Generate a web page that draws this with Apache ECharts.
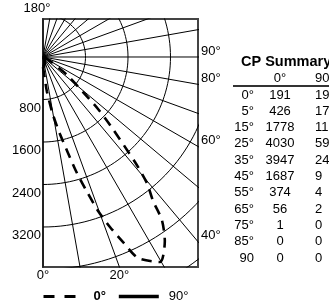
<!DOCTYPE html>
<html>
  <head>
    <title>CP Summary</title>
    <meta http-equiv="Content-Type" content="text/html; charset=utf-8" />
    <script type="text/javascript" src="https://cdn.jsdelivr.net/npm/echarts@6/dist/echarts.min.js"></script>
    <style>
      html, body { margin: 0; padding: 0; background: #fff; }
      #main { width: 329px; height: 307px; }
    </style>
  </head>
  <body>
    <div id="main"></div>
    <script type="text/javascript">
      var FONT = '"Liberation Sans", Arial, Helvetica, sans-serif';

      // CP Summary table
      var rowLabels = ['0°', '5°', '15°', '25°', '35°', '45°', '55°', '65°', '75°', '85°', '90'];
      var tableAngles = [0, 5, 15, 25, 35, 45, 55, 65, 75, 85, 90];
      var cp0 = [191, 426, 1778, 4030, 3947, 1687, 374, 56, 1, 0, 0];
      var cp90 = [191, 172, 115, 59, 24, 9, 4, 2, 0, 0, 0];

      // 0° plane curve (angle from nadir, candela)
      var curveAngles0 = [0, 5, 6.5, 9.8, 12.4, 14.6, 16.3, 18.1, 19.7, 21.5, 23.4, 25.3, 29.7,
                          33.5, 36.1, 37.4, 39.5, 41.2, 44.6, 46.6, 48.8, 52.8, 55, 60, 65, 75, 90];
      var curveCd0 = [191, 426, 663, 1108, 1485, 1867, 2276, 2673, 3078, 3439, 3795, 4185, 4443,
                      4155, 3799, 3411, 3075, 2628, 1797, 1425, 1001, 591, 374, 160, 56, 1, 0];

      // polar grid
      var rayAngles = [0, 10, 20, 30, 40, 50, 60, 70, 80, 90, 100, 110, 120, 130, 140, 150, 160, 170, 180];
      var ringValues = [800, 1600, 2400, 3200, 4000, 4800];
      var leftTicks = [800, 1600, 2400, 3200];
      var edgeAngles = [180, 90, 80, 60, 40, 0, 20];

      // visible window of the plot, in candela
      var X_MAX = 2918, Y_MAX = 715, Y_MIN = -3953;

      // angle from nadir (deg) + candela -> x/y in candela
      function toXY(deg, cd) {
        var a = deg * Math.PI / 180;
        return [cd * Math.sin(a), -cd * Math.cos(a)];
      }

      function curveData(angles, values) {
        var out = [];
        for (var i = 0; i < angles.length; i++) {
          out.push(toXY(angles[i], values[i]));
        }
        return out;
      }

      // where a ray leaves the window, and which side
      function edgePoint(deg) {
        var a = deg * Math.PI / 180;
        var dx = Math.sin(a), dy = -Math.cos(a);
        var t = Infinity, side = '';
        if (dx > 1e-9 && X_MAX / dx < t) { t = X_MAX / dx; side = 'right'; }
        if (dy < -1e-9 && Y_MIN / dy < t) { t = Y_MIN / dy; side = 'bottom'; }
        if (dy > 1e-9 && Y_MAX / dy < t) { t = Y_MAX / dy; side = 'top'; }
        return { value: [dx * t, dy * t], side: side };
      }

      var series = [];
      var gridLine = { color: '#000', width: 1 };

      for (var i = 0; i < rayAngles.length; i++) {
        series.push({
          type: 'line', silent: true, clip: true, symbol: 'none',
          lineStyle: gridLine,
          data: [[0, 0], toXY(rayAngles[i], 8000)]
        });
      }
      for (var j = 0; j < ringValues.length; j++) {
        var ring = [];
        for (var d = 0; d <= 180; d += 2) ring.push(toXY(d, ringValues[j]));
        series.push({
          type: 'line', silent: true, clip: true, symbol: 'none',
          lineStyle: gridLine, data: ring
        });
      }

      series.push({
        name: '0°', type: 'line', clip: true, symbol: 'none', smooth: 0.25,
        itemStyle: { color: '#000' },
        lineStyle: { color: '#000', width: 2.6, type: [10, 7] },
        data: curveData(curveAngles0, curveCd0), z: 5
      });
      series.push({
        name: '90°', type: 'line', clip: true, symbol: 'none', smooth: 0.3,
        itemStyle: { color: '#000' },
        lineStyle: { color: '#000', width: 3.2, type: 'solid' },
        data: curveData(tableAngles, cp90), z: 5
      });

      // angle labels on the frame
      var edgeData = [];
      for (var k = 0; k < edgeAngles.length; k++) {
        var e = edgePoint(edgeAngles[k]);
        var lbl = { position: e.side, distance: 3 };
        if (e.side === 'right') lbl.offset = [0, -6];
        if (e.side === 'top') { lbl.offset = [-6, 0]; lbl.distance = 4; }
        if (e.side === 'bottom') lbl.distance = 2;
        edgeData.push({ value: e.value, name: edgeAngles[k] + '°', label: lbl });
      }
      series.push({
        type: 'line', silent: true, clip: false, symbol: 'circle', symbolSize: 0,
        showSymbol: true, showAllSymbol: true,
        lineStyle: { width: 0, opacity: 0 },
        itemStyle: { color: 'rgba(0,0,0,0)', opacity: 1 },
        emphasis: { disabled: true },
        label: {
          show: true, formatter: '{b}', color: '#000', opacity: 1,
          textBorderWidth: 0, fontSize: 13, fontFamily: FONT
        },
        data: edgeData, z: 6
      });

      // table as text graphics
      var graphics = [];
      var tx = { label: 254, c0: 280, c90: 315 };
      graphics.push({ type: 'text', left: 241, top: 54,
        style: { text: 'CP Summary', font: 'bold 14.5px ' + FONT, fill: '#000' } });
      graphics.push({ type: 'text', x: tx.c0, y: 78,
        style: { text: '0°', font: '13px ' + FONT, fill: '#000', align: 'center', verticalAlign: 'middle' } });
      graphics.push({ type: 'text', x: tx.c90, y: 78,
        style: { text: '90°', font: '13px ' + FONT, fill: '#000', align: 'left', verticalAlign: 'middle' } });
      graphics.push({ type: 'line', shape: { x1: 233, y1: 86, x2: 329, y2: 86 },
        style: { stroke: '#333', lineWidth: 2 } });
      for (var r = 0; r < rowLabels.length; r++) {
        var y = 95 + r * 16.3;
        graphics.push({ type: 'text', x: tx.label, y: y,
          style: { text: rowLabels[r], font: '13px ' + FONT, fill: '#000', align: 'right', verticalAlign: 'middle' } });
        graphics.push({ type: 'text', x: tx.c0, y: y,
          style: { text: String(cp0[r]), font: '13px ' + FONT, fill: '#000', align: 'center', verticalAlign: 'middle' } });
        graphics.push({ type: 'text', x: tx.c90, y: y,
          style: { text: String(cp90[r]), font: '13px ' + FONT, fill: '#000', align: 'left', verticalAlign: 'middle' } });
      }

      var chart = echarts.init(document.getElementById('main'));
      chart.setOption({
        animation: false,
        backgroundColor: '#fff',
        grid: {
          left: 43, top: 19, width: 155, height: 248,
          show: true, borderColor: '#444', borderWidth: 2, backgroundColor: 'transparent'
        },
        xAxis: {
          type: 'value', min: 0, max: X_MAX,
          axisLine: { show: false }, axisTick: { show: false },
          axisLabel: { show: false }, splitLine: { show: false }
        },
        yAxis: {
          type: 'value', min: Y_MIN, max: Y_MAX,
          axisLine: { show: false }, axisTick: { show: false }, splitLine: { show: false },
          axisLabel: {
            customValues: leftTicks.map(function (v) { return -v; }),
            formatter: function (v) { return String(Math.abs(v)); },
            color: '#000', fontSize: 13, fontFamily: FONT,
            margin: 2, verticalAlign: 'top', padding: [2, 0, 0, 0]
          }
        },
        legend: [{
          data: ['0°'], left: 42, top: 290, padding: 0, itemWidth: 33, itemHeight: 14,
          itemStyle: { color: 'rgba(0,0,0,0)', borderWidth: 0 },
          lineStyle: { color: '#000', width: 3, type: [11, 10] },
          textStyle: { color: '#000', fontSize: 13, fontWeight: 'bold', fontFamily: FONT, padding: [0, 0, 0, 12] }
        }, {
          data: ['90°'], left: 117, top: 290, padding: 0, itemWidth: 40, itemHeight: 14,
          itemStyle: { color: 'rgba(0,0,0,0)', borderWidth: 0 },
          lineStyle: { color: '#000', width: 3.6, type: 'solid' },
          textStyle: { color: '#000', fontSize: 13, fontFamily: FONT, padding: [0, 0, 0, 5] }
        }],
        graphic: graphics,
        series: series
      });
    </script>
  </body>
</html>
